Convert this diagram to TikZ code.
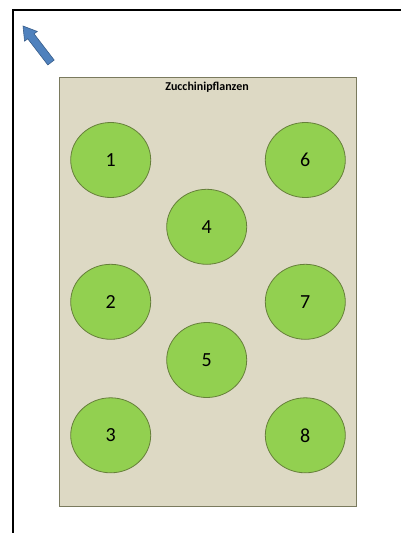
\documentclass[tikz,border=0pt]{standalone}
\usepackage{fontspec}
\setmainfont{Carlito}
\definecolor{bedbg}{HTML}{DDD9C4}
\definecolor{bedline}{HTML}{7A7A5E}
\definecolor{plantfill}{HTML}{92D050}
\definecolor{plantline}{HTML}{66803A}
\definecolor{arrowfill}{HTML}{4F81BD}
\definecolor{arrowline}{HTML}{385D8A}
\begin{document}
\begin{tikzpicture}[x=1pt,y=-1pt,
  plant/.style={ellipse,draw=plantline,fill=plantfill,line width=0.8pt,
    minimum width=80pt,minimum height=75pt,inner sep=0pt,font=\fontsize{20}{22}\selectfont},
  bed/.style={draw=bedline,fill=bedbg,line width=1.2pt},
  frameline/.style={draw=black,line width=1.6pt}]
\usetikzlibrary{shapes.geometric}
\useasboundingbox (0,0) rectangle (400,533);
\draw[frameline] (13,540) -- (13,10) -- (410,10);
% bed
\node[bed,minimum width=297pt,minimum height=429pt,inner sep=0pt,anchor=north west] (bedbox) at (59,77) {};
\node[font=\bfseries\fontsize{12}{14}\selectfont,anchor=center] (title) at (207,87) {Zucchinipflanzen};
% plants
\node[plant] (p1) at (110.7,160) {1};
\node[plant] (p2) at (110.7,301.8) {2};
\node[plant] (p3) at (110.7,435.3) {3};
\node[plant] (p4) at (206.7,226.8) {4};
\node[plant] (p5) at (206.7,360) {5};
\node[plant] (p6) at (305.3,160) {6};
\node[plant] (p7) at (305.3,301.8) {7};
\node[plant] (p8) at (305.3,435.3) {8};
% north arrow
\begin{scope}[shift={(23,26)},rotate=-52.5]
\draw[fill=arrowfill,draw=arrowline,line width=0.6pt]
  (0,0) -- (13,-8) -- (13,-4) -- (46,-4) -- (46,4) -- (13,4) -- (13,8) -- cycle;
\end{scope}
\end{tikzpicture}
\end{document}
